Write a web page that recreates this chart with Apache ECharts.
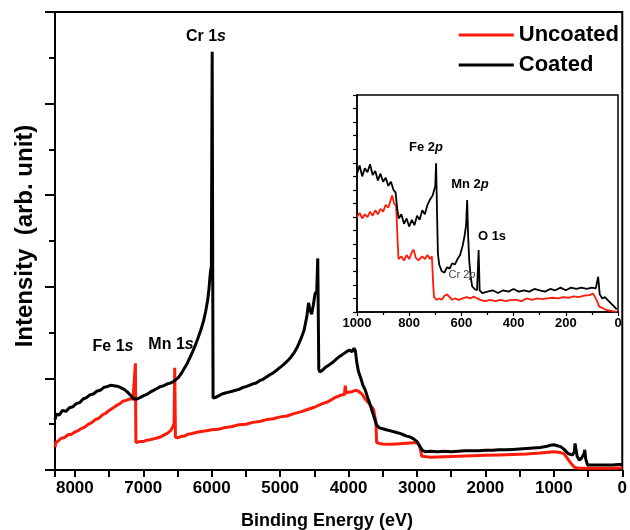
<!DOCTYPE html>
<html>
<head>
<meta charset="utf-8">
<script src="https://cdn.jsdelivr.net/npm/echarts@6/dist/echarts.min.js"></script>
<style>
  html, body { margin: 0; padding: 0; background: #fff; }
  #chart { width: 630px; height: 530px; }
</style>
</head>
<body>
<div id="chart"></div>
<script>
// survey spectra, [binding energy eV, intensity arb.]
const uncoatedMain = [
  [8290, 0.50], [8275, 0.60], [8240, 0.64], [8200, 0.69], [8150, 0.71], [8100, 0.77], [8050, 0.78], [8000, 0.83],
  [7950, 0.86], [7900, 0.91], [7850, 0.94], [7800, 1.00], [7750, 1.04], [7700, 1.10], [7650, 1.13], [7600, 1.20],
  [7550, 1.24], [7500, 1.30], [7450, 1.35], [7400, 1.40], [7350, 1.44], [7300, 1.50], [7250, 1.52], [7200, 1.55],
  [7150, 1.55], [7125, 1.57], [7115, 2.33], [7108, 0.60], [7080, 0.58], [7050, 0.62], [7000, 0.62], [6950, 0.65],
  [6900, 0.66], [6850, 0.68], [6800, 0.70], [6750, 0.72], [6700, 0.76], [6650, 0.80], [6600, 0.86], [6570, 0.94],
  [6550, 1.02], [6540, 2.23], [6530, 0.72], [6500, 0.70], [6450, 0.73], [6400, 0.74], [6350, 0.78], [6300, 0.79],
  [6200, 0.83], [6100, 0.85], [6000, 0.88], [5900, 0.89], [5800, 0.93], [5700, 0.95], [5600, 0.99], [5500, 1.00],
  [5400, 1.04], [5300, 1.06], [5200, 1.10], [5100, 1.12], [5000, 1.16], [4900, 1.18], [4800, 1.23], [4700, 1.27],
  [4600, 1.32], [4500, 1.37], [4400, 1.44], [4300, 1.49], [4200, 1.58], [4150, 1.61], [4100, 1.64], [4060, 1.65],
  [4048, 1.84], [4036, 1.68], [4000, 1.70], [3950, 1.71], [3900, 1.74], [3855, 1.72], [3800, 1.65], [3757, 1.55],
  [3700, 1.45], [3636, 1.33], [3600, 1.05], [3590, 0.60], [3550, 0.58], [3500, 0.57], [3400, 0.56], [3300, 0.57],
  [3200, 0.58], [3100, 0.59], [3000, 0.60], [2960, 0.52], [2930, 0.30], [2800, 0.28], [2600, 0.29], [2400, 0.30],
  [2200, 0.31], [2000, 0.32], [1800, 0.33], [1600, 0.34], [1400, 0.35], [1200, 0.37], [1000, 0.40], [900, 0.38],
  [850, 0.35], [800, 0.25], [752, 0.15], [700, 0.06], [650, 0.04], [500, 0.04], [300, 0.04], [100, 0.04], [0, 0.05],
];
const coatedMain = [
  [8290, 1.10], [8270, 1.22], [8230, 1.20], [8180, 1.30], [8130, 1.28], [8080, 1.36], [8030, 1.38], [7980, 1.45],
  [7930, 1.47], [7880, 1.55], [7830, 1.58], [7780, 1.64], [7730, 1.66], [7680, 1.72], [7630, 1.74], [7580, 1.80],
  [7530, 1.82], [7480, 1.85], [7430, 1.84], [7380, 1.83], [7330, 1.80], [7280, 1.76], [7230, 1.70], [7180, 1.62],
  [7140, 1.55], [7115, 1.52], [7090, 1.55], [7050, 1.58], [7000, 1.62], [6950, 1.65], [6900, 1.70], [6850, 1.74],
  [6800, 1.78], [6750, 1.82], [6700, 1.84], [6650, 1.88], [6600, 1.90], [6560, 1.93], [6520, 1.98], [6480, 2.03],
  [6440, 2.12], [6400, 2.22], [6360, 2.32], [6320, 2.45], [6280, 2.58], [6240, 2.72], [6200, 2.88], [6160, 3.05],
  [6120, 3.25], [6090, 3.45], [6060, 3.70], [6040, 3.95], [6020, 4.30], [6005, 4.45], [5993, 9.13], [5980, 1.57],
  [5950, 1.58], [5900, 1.62], [5850, 1.66], [5800, 1.68], [5750, 1.70], [5700, 1.72], [5650, 1.74], [5600, 1.76],
  [5550, 1.80], [5500, 1.82], [5450, 1.85], [5400, 1.88], [5350, 1.90], [5300, 1.95], [5250, 1.98], [5200, 2.03],
  [5150, 2.08], [5100, 2.12], [5050, 2.18], [5000, 2.24], [4950, 2.30], [4900, 2.37], [4850, 2.45], [4800, 2.55],
  [4750, 2.68], [4700, 2.85], [4650, 3.05], [4610, 3.35], [4585, 3.65], [4565, 3.50], [4540, 3.40], [4515, 3.60],
  [4490, 3.85], [4465, 3.90], [4450, 4.62], [4435, 2.20], [4420, 2.14], [4380, 2.18], [4330, 2.25], [4280, 2.30],
  [4230, 2.35], [4180, 2.42], [4130, 2.48], [4080, 2.53], [4030, 2.58], [3990, 2.62], [3950, 2.58], [3920, 2.66],
  [3900, 2.60], [3880, 2.35], [3855, 2.15], [3820, 2.00], [3790, 1.85], [3757, 1.75], [3720, 1.58], [3690, 1.45],
  [3660, 1.31], [3620, 1.12], [3590, 0.98], [3550, 0.92], [3500, 0.90], [3450, 0.88], [3400, 0.86], [3350, 0.84],
  [3300, 0.82], [3250, 0.80], [3200, 0.77], [3150, 0.74], [3100, 0.72], [3050, 0.68], [3000, 0.62], [2960, 0.52],
  [2920, 0.43], [2880, 0.40], [2800, 0.41], [2700, 0.40], [2600, 0.41], [2500, 0.40], [2400, 0.41], [2300, 0.42],
  [2200, 0.42], [2100, 0.42], [2000, 0.43], [1900, 0.43], [1800, 0.44], [1700, 0.44], [1600, 0.45], [1500, 0.46],
  [1400, 0.47], [1300, 0.48], [1200, 0.49], [1100, 0.52], [1050, 0.54], [1000, 0.55], [950, 0.53], [900, 0.51],
  [850, 0.45], [800, 0.37], [760, 0.34], [727, 0.33], [700, 0.40], [690, 0.58], [675, 0.56], [660, 0.30],
  [630, 0.22], [600, 0.25], [582, 0.28], [560, 0.35], [548, 0.44], [535, 0.25], [509, 0.11], [450, 0.11],
  [300, 0.11], [150, 0.11], [50, 0.12], [0, 0.12],
];
// inset: low energy region 0-1000 eV
const uncoatedInset = [
  [1000, 7.0], [990, 7.3], [980, 6.9], [970, 7.2], [960, 7.0], [950, 7.4], [940, 7.1], [930, 7.5], [920, 7.2],
  [910, 7.6], [900, 7.4], [890, 7.9], [880, 7.7], [870, 8.3], [865, 8.6], [858, 8.0], [850, 7.8], [845, 5.5],
  [841, 3.9], [830, 4.1], [820, 3.8], [810, 4.2], [800, 3.9], [790, 4.4], [783, 4.6], [775, 4.0], [765, 3.8],
  [758, 3.7], [750, 4.1], [740, 3.9], [730, 4.2], [720, 3.9], [713, 4.1], [708, 2.0], [705, 1.1], [695, 0.9],
  [685, 1.0], [675, 0.9], [665, 1.2], [655, 1.3], [645, 1.1], [635, 0.9], [625, 1.0], [610, 0.9], [595, 1.0],
  [580, 1.1], [565, 1.0], [553, 1.15], [540, 1.0], [527, 0.9], [510, 0.8], [490, 0.9], [470, 0.8], [450, 0.9],
  [430, 0.8], [410, 0.9], [390, 0.9], [370, 0.8], [350, 1.0], [330, 0.9], [310, 1.0], [290, 0.95], [270, 1.0],
  [250, 1.05], [230, 1.0], [210, 1.1], [190, 1.05], [170, 1.15], [150, 1.1], [130, 1.2], [110, 1.25], [95, 1.35],
  [88, 1.3], [80, 0.8], [72, 0.4], [60, 0.3], [45, 0.15], [30, 0.1], [15, 0.05], [5, 0.0],
];
const coatedInset = [
  [1000, 10.2], [990, 10.8], [980, 10.0], [970, 10.6], [960, 10.3], [950, 10.9], [940, 10.1], [930, 10.4],
  [920, 9.7], [910, 10.2], [900, 9.6], [890, 9.9], [880, 9.3], [870, 9.6], [860, 9.0], [852, 8.8], [846, 7.6],
  [840, 6.9], [830, 7.2], [820, 6.5], [810, 6.9], [800, 6.3], [790, 6.8], [780, 6.4], [770, 7.1], [760, 6.8],
  [750, 7.5], [740, 7.2], [730, 7.9], [720, 8.3], [710, 8.6], [700, 9.3], [697, 10.96], [693, 7.0], [690, 4.3],
  [685, 3.5], [675, 3.0], [665, 2.9], [655, 3.3], [645, 3.2], [635, 3.6], [625, 3.5], [615, 3.9], [605, 4.2],
  [595, 4.9], [588, 5.6], [582, 6.4], [578, 8.26], [574, 5.5], [570, 3.8], [565, 2.7], [559, 1.9], [550, 1.7],
  [540, 1.6], [534, 4.57], [530, 1.6], [520, 1.4], [500, 1.5], [480, 1.6], [460, 1.4], [440, 1.6], [420, 1.5],
  [400, 1.7], [380, 1.5], [360, 1.6], [340, 1.5], [320, 1.7], [300, 1.6], [280, 1.5], [260, 1.7], [240, 1.6],
  [220, 1.8], [200, 1.6], [180, 1.8], [160, 1.7], [140, 1.8], [120, 1.7], [100, 1.8], [85, 1.75], [76, 2.6],
  [70, 1.3], [60, 1.0], [50, 1.1], [40, 0.9], [30, 0.7], [20, 0.5], [10, 0.3], [5, 0.2],
];
const seriesNames = ["Uncoated", "Coated"];
const seriesColors = ["#ff1a0a", "#000000"];

const FONT = "Liberation Sans, Arial, sans-serif";

function peakLabel(main, italic, x, y, size, color, weight) {
  return {
    type: "text",
    x: x,
    y: y,
    z: 100,
    style: {
      text: "{a|" + main + "}{b|" + italic + "}",
      align: "center",
      verticalAlign: "middle",
      rich: {
        a: { fontFamily: FONT, fontSize: size, fontWeight: weight, fill: color },
        b: { fontFamily: FONT, fontSize: size, fontWeight: weight, fontStyle: "italic", fill: color },
      },
    },
  };
}

let option = {
  animation: false,
  backgroundColor: "#ffffff",
  legend: {
    data: seriesNames,
    orient: "vertical",
    right: 6,
    top: 19,
    icon: "rect",
    itemWidth: 55,
    itemHeight: 3,
    itemGap: 8,
    textStyle: { color: "#000", fontSize: 22, fontWeight: "bold", fontFamily: FONT },
  },
  grid: [
    {
      left: 55,
      top: 12,
      right: 5,
      bottom: 60,
      show: true,
      borderColor: "#000",
      borderWidth: 2,
    },
    {
      left: 357,
      top: 95,
      width: 261,
      height: 217,
      show: true,
      backgroundColor: "#fff",
      borderColor: "#000",
      borderWidth: 1.5,
      z: 5,
    },
  ],
  xAxis: [
    {
      type: "value",
      gridIndex: 0,
      position: "bottom",
      min: 0,
      max: 8290,
      interval: 1000,
      inverse: true,
      axisLine: { onZero: false, lineStyle: { color: "#000", width: 2 } },
      axisTick: { length: 7, lineStyle: { color: "#000", width: 2 } },
      minorTick: { show: true, splitNumber: 2, length: 7, lineStyle: { color: "#000", width: 2 } },
      splitLine: { show: false },
      axisLabel: {
        color: "#000",
        fontSize: 17,
        fontWeight: "bold",
        fontFamily: FONT,
        margin: 10,
        formatter: (v) => (v % 1000 === 0 ? String(v) : ""),
      },
    },
    {
      type: "value",
      gridIndex: 1,
      position: "bottom",
      min: 0,
      max: 1000,
      interval: 200,
      inverse: true,
      z: 6,
      axisLine: { onZero: false, lineStyle: { color: "#000", width: 1.5 } },
      axisTick: { length: 4, lineStyle: { color: "#000", width: 1.2 } },
      minorTick: { show: true, splitNumber: 2, length: 3, lineStyle: { color: "#000", width: 1.2 } },
      splitLine: { show: false },
      axisLabel: {
        color: "#000",
        fontSize: 13,
        fontWeight: "bold",
        fontFamily: FONT,
        margin: 5,
        formatter: (v) => String(v),
      },
    },
  ],
  yAxis: [
    {
      type: "value",
      gridIndex: 0,
      position: "left",
      min: 0,
      max: 10,
      interval: 2,
      axisLine: { show: true, onZero: false, lineStyle: { color: "#000", width: 2 } },
      axisTick: { show: true, length: 10, lineStyle: { color: "#000", width: 2 } },
      minorTick: { show: true, splitNumber: 2, length: 6, lineStyle: { color: "#000", width: 2 } },
      splitLine: { show: false },
      axisLabel: { show: false },
    },
    {
      type: "value",
      gridIndex: 1,
      position: "left",
      min: 0,
      max: 16,
      interval: 1,
      z: 6,
      axisLine: { show: true, onZero: false, lineStyle: { color: "#000", width: 1.5 } },
      axisTick: { show: true, length: 4, lineStyle: { color: "#000", width: 1.2 } },
      splitLine: { show: false },
      axisLabel: { show: false },
    },
  ],
  series: [
    {
      name: seriesNames[0],
      type: "line",
      xAxisIndex: 0,
      yAxisIndex: 0,
      symbol: "none",
      lineStyle: { color: seriesColors[0], width: 3 },
      itemStyle: { color: seriesColors[0] },
      data: uncoatedMain,
    },
    {
      name: seriesNames[1],
      type: "line",
      xAxisIndex: 0,
      yAxisIndex: 0,
      symbol: "none",
      lineStyle: { color: seriesColors[1], width: 3 },
      itemStyle: { color: seriesColors[1] },
      data: coatedMain,
    },
    {
      name: seriesNames[0],
      type: "line",
      xAxisIndex: 1,
      yAxisIndex: 1,
      symbol: "none",
      z: 7,
      lineStyle: { color: seriesColors[0], width: 1.8 },
      itemStyle: { color: seriesColors[0] },
      data: uncoatedInset,
    },
    {
      name: seriesNames[1],
      type: "line",
      xAxisIndex: 1,
      yAxisIndex: 1,
      symbol: "none",
      z: 7,
      lineStyle: { color: seriesColors[1], width: 1.8 },
      itemStyle: { color: seriesColors[1] },
      data: coatedInset,
    },
  ],
  graphic: [
    peakLabel("Cr 1", "s", 206, 37, 16, "#000", "bold"),
    peakLabel("Fe 1", "s", 113, 347, 16, "#000", "bold"),
    peakLabel("Mn 1", "s", 171, 345, 16, "#000", "bold"),
    peakLabel("Fe 2", "p", 426, 147, 13, "#000", "bold"),
    peakLabel("Mn 2", "p", 470, 184, 13, "#000", "bold"),
    peakLabel("O 1s", "", 492, 236, 13, "#000", "bold"),
    peakLabel("Cr 2", "p", 462, 275, 11, "#444", "normal"),
    {
      type: "text",
      x: 25,
      y: 236,
      rotation: Math.PI / 2,
      style: {
        text: "Intensity  (arb. unit)",
        align: "center",
        verticalAlign: "middle",
        fontFamily: FONT,
        fontSize: 24,
        fontWeight: "bold",
        fill: "#000",
      },
    },
    {
      type: "text",
      x: 327,
      y: 521,
      style: {
        text: "Binding Energy (eV)",
        align: "center",
        verticalAlign: "middle",
        fontFamily: FONT,
        fontSize: 18,
        fontWeight: "bold",
        fill: "#000",
      },
    },
  ],
};

let myChart = echarts.init(document.getElementById("chart"), null, { renderer: "canvas" });
myChart.setOption(option);
</script>
</body>
</html>
